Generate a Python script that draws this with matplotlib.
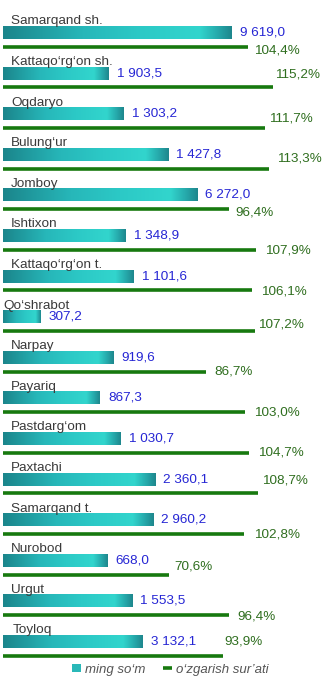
import numpy as np
import matplotlib
matplotlib.use('Agg')
import matplotlib.pyplot as plt
from matplotlib.colors import LinearSegmentedColormap

plt.rcParams['font.family'] = ['Liberation Sans', 'DejaVu Sans']

# data
districts = ['Samarqand sh.', 'Kattaqo‘rg‘on sh.', 'Oqdaryo', 'Bulung‘ur', 'Jomboy',
             'Ishtixon', 'Kattaqo‘rg‘on t.', 'Qo‘shrabot', 'Narpay', 'Payariq',
             'Pastdarg‘om', 'Paxtachi', 'Samarqand t.', 'Nurobod', 'Urgut', 'Toyloq']
value_labels = ['9 619,0', '1 903,5', '1 303,2', '1 427,8', '6 272,0', '1 348,9',
                '1 101,6', '307,2', '919,6', '867,3', '1 030,7', '2 360,1',
                '2 960,2', '668,0', '1 553,5', '3 132,1']
# bar lengths as drawn (not proportional to the labels in the source)
bar_len = [97.5, 45.0, 51.5, 70.4, 82.8, 52.4, 55.8, 16.0, 47.0, 41.3,
           50.1, 64.9, 64.0, 44.4, 55.1, 59.5]
pct = [104.4, 115.2, 111.7, 113.3, 96.4, 107.9, 106.1, 107.2, 86.7, 103.0,
       104.7, 108.7, 102.8, 70.6, 96.4, 93.9]

# label placement tweaks (pixels, dy positive = up)
pct_dx = [6, 2, 4, 8, 6, 9, 9, 3, 8, 9, 9, 4, 10, 6, 8, 1]
pct_dy = [-4, 13, 10, 10, -3, -1, -1, 7, 0, 0, 0, 13, 0, 8, -1, 14]
name_dx = [8, 8, 8, 8, 8, 8, 8, 0, 8, 8, 8, 8, 8, 8, 8, 10]

fig = plt.figure(figsize=(3.23, 6.82), dpi=100)
ax = fig.add_axes([0, 0, 1, 1])

y = np.arange(len(districts))
bh = 0.32
goff = 0.355

bars = ax.barh(y, bar_len, height=bh, color='#2ab8b8', label='ming so‘m')
cmap = LinearSegmentedColormap.from_list('teal', [
    (0.0, '#1b858b'), (0.35, '#27b7b9'), (0.6, '#2cc9c6'),
    (0.86, '#32d5cd'), (0.94, '#26a9ab'), (1.0, '#1e878d')])
grad = np.linspace(0, 1, 256).reshape(1, -1)
for b in bars:
    x0, y0 = b.get_x(), b.get_y()
    w, h = b.get_width(), b.get_height()
    ax.imshow(grad, cmap=cmap, aspect='auto', extent=(x0, x0 + w, y0 + h, y0),
              interpolation='bilinear', zorder=3)

lines = ax.hlines(y + goff, 0, pct, colors='#17790f', linewidth=2.6,
                  label='o‘zgarish sur’ati', zorder=3)

for i in range(len(districts)):
    ax.annotate(districts[i], xy=(0, y[i] - bh / 2), xytext=(name_dx[i], 1.5),
                textcoords='offset pixels', fontsize=9.7, color='#3a3a3a',
                va='baseline', ha='left', zorder=4)
    ax.annotate(value_labels[i], xy=(bar_len[i], y[i]), xytext=(8, 0),
                textcoords='offset pixels', fontsize=9.7, color='#2626d4',
                va='center', ha='left', zorder=4)
    ax.annotate(f'{pct[i]:.1f}%'.replace('.', ','), xy=(pct[i], y[i] + goff),
                xytext=(pct_dx[i], pct_dy[i]), textcoords='offset pixels',
                fontsize=9.7, color='#2f6e1f', va='center', ha='left', zorder=4)

ax.set_xlim(-1.34, 136.4)
ax.set_ylim(16.0, -0.8)
ax.axis('off')

leg = ax.legend(handles=[bars, lines], loc='center', bbox_to_anchor=(0.527, 0.018),
                ncol=2, frameon=False, handlelength=0.7,
                handleheight=0.6, handletextpad=0.3, columnspacing=1.3,
                borderpad=0, prop={'style': 'italic', 'size': 9.5})
for t in leg.get_texts():
    t.set_color('#555555')

fig.savefig('out.png', dpi=100, facecolor='white')
